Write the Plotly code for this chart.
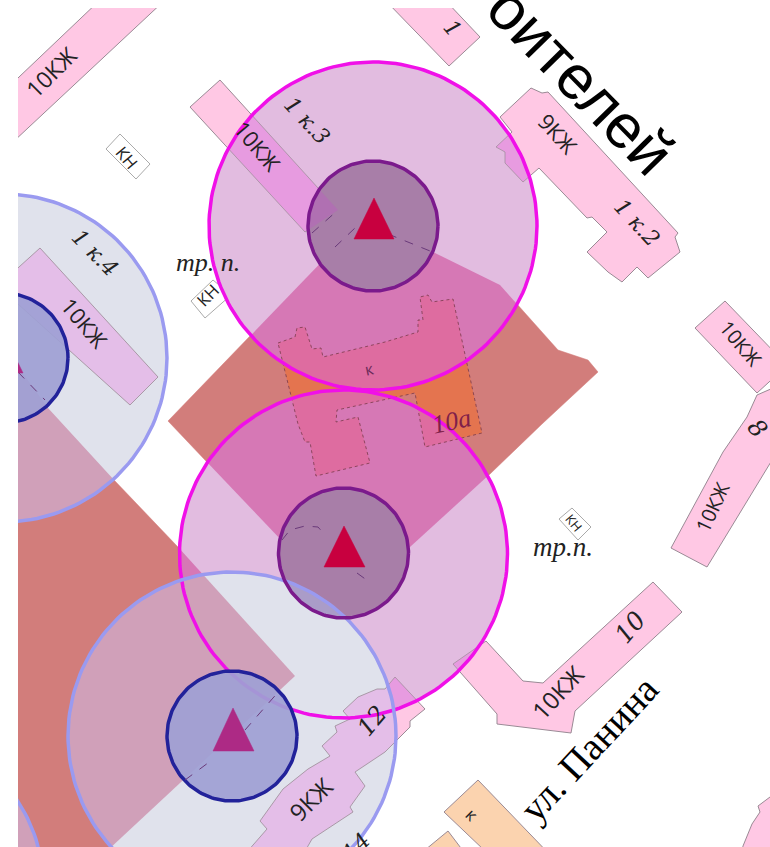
import numpy as np
import plotly.graph_objects as go

# Map geometry (pixel-like map units)
PLOT_UPPER = [(168,421),(317,267),(360,222),(435,253),(500,285),(558,350),(588,360),(598,372),(542,424),(490,474),(410,547),(344,606),(277,536)]
PLOT_LOWER = [(-5,335),(48,408),(115,481),(177,546),(295,676),(108,850),(-5,850)]
SCHOOL = [(278,343),(295,337),(297,328),(305,327),(312,349),(321,348),(323,357),(385,342),(418,332),(418,320),(423,320),(420,297),(428,295),(432,302),(453,299),(482,433),(425,447),(415,393),(337,410),(336,422),(358,417),(370,463),(316,476),(310,442),(305,442),(298,424)]
BLD_TOPLEFT = [(100,0),(165,0),(-2,156),(-2,97)]
BLD_K3 = [(220,80),(190,107),(305,232),(338,210)]
BLD_K4 = [(40,248),(-2,286),(130,405),(158,377)]
BLD_1 = [(385,0),(445,0),(480,37),(449,66)]
BLD_K2 = [(500,117),(531,88),(542,93),(548,92),(678,233),(675,237),(680,252),(648,278),(637,267),(622,282),(608,272),(587,252),(607,232),(592,217),(587,218),(539,168),(523,182),(505,163),(505,152),(496,147),(512,132)]
BLD_RIGHT = [(725,301),(695,328),(757,393),(780,372),(780,358)]
BLD_8 = [(757,395),(747,417),(723,452),(703,489),(680,531),(671,548),(707,567),(780,447),(780,385)]
BLD_10 = [(653,582),(682,612),(575,711),(571,733),(497,724),(497,714),(453,664),(486,641),(523,681),(543,683)]
BLD_12 = [(395,677),(425,709),(410,721),(410,727),(385,752),(355,772),(365,786),(350,807),(353,812),(312,839),(300,860),(240,860),(267,829),(260,821),(283,789),(300,776),(308,769),(330,756),(322,746),(337,732),(335,726),(350,719),(343,711),(358,697),(377,689),(385,689)]
BLD_CORNER = [(770,797),(758,806),(760,812),(752,824),(743,846),(740,860),(780,860),(780,790)]
PINK_BUILDINGS = [BLD_TOPLEFT, BLD_K3, BLD_K4, BLD_1, BLD_K2, BLD_RIGHT, BLD_8, BLD_10, BLD_12, BLD_CORNER]
ORANGE_1 = [(478,780),(444,812),(505,870),(555,860)]
ORANGE_2 = [(448,831),(425,850),(470,860)]
ORANGE_BUILDINGS = [ORANGE_1, ORANGE_2]
KN_1 = [(120,134),(106,149),(136,179),(150,164)]
KN_2 = [(213,280),(191,301),(205,318),(231,295)]
KN_3 = [(572,508),(559,519),(578,540),(591,527)]
KN_BOXES = [KN_1, KN_2, KN_3]

BIG_MAGENTA_X = [373, 343.5]
BIG_MAGENTA_Y = [226, 554]
BIG_BLUE_X = [3, 232, -120]
BIG_BLUE_Y = [358, 736, 890]
BIG_R = 164
SMALL_MAGENTA_X = [373, 343.5]
SMALL_MAGENTA_Y = [226, 553]
SMALL_BLUE_X = [3, 232]
SMALL_BLUE_Y = [358, 736]
SMALL_R = 65

TRI_RED_1 = [(374,198),(354,239),(394,239)]
TRI_RED_2 = [(344,526),(324,567),(365,567)]
TRI_BLUE_1 = [(233,708),(213,751),(254,751)]
TRI_BLUE_2 = [(3,332),(-17,373),(23,373)]

DASH_LINES = [
    [(312,233),(338,210)], [(335,247),(355,228)], [(388,234),(435,253)],
    [(282,540),(290,530),(305,526),(318,527),(325,535)], [(357,573),(368,581)],
    [(185,780),(212,760)], [(245,730),(280,690)], [(18,372),(45,400)],
]

SANS = "Open Sans"
SERIF = "DejaVu Serif"
TIMES = "Liberation Serif"
LABELS = [
    ("10КЖ",(51,72),-45,23,SANS,"normal","#222"),
    ("10КЖ",(258,146),50,22,SANS,"normal","#222"),
    ("1 к.3",(307,120),47,22,SERIF,"italic","#222"),
    ("1 к.4",(95,252),45,22,SERIF,"italic","#222"),
    ("10КЖ",(85,323),50,22,SANS,"normal","#222"),
    ("КН",(127,157),50,17,SANS,"normal","#222"),
    ("КН",(207,295),-45,17,SANS,"normal","#222"),
    ("тр. п.",(208,262),0,26,TIMES,"italic","#222"),
    ("к",(369,369),-12,16,SANS,"normal","#6a2a5a"),
    ("10а",(451,421),-12,26,TIMES,"italic","#80204a"),
    ("1",(453,28),50,22,SERIF,"italic","#222"),
    ("оителей",(581,80),45.5,62,"Liberation Sans","normal","#000"),
    ("9КЖ",(558,133),48,22,SANS,"normal","#222"),
    ("1 к.2",(637,222),47,22,SERIF,"italic","#222"),
    ("10КЖ",(741,343),50,20,SANS,"normal","#222"),
    ("8",(757,428),50,24,SERIF,"italic","#222"),
    ("10КЖ",(712,507),-65,20,SANS,"normal","#222"),
    ("КН",(574,523),50,13,SANS,"normal","#222"),
    ("тр.п.",(563,547),0,27,TIMES,"italic","#222"),
    ("10",(630,627),-50,25,SERIF,"italic","#222"),
    ("10КЖ",(557,692),-47,24,SANS,"normal","#222"),
    ("ул. Панина",(589,749),-47,39,TIMES,"normal","#000"),
    ("к",(472,814),45,17,SANS,"normal","#222"),
    ("12",(372,721),-50,24,SERIF,"italic","#222"),
    ("9КЖ",(310,799),-45,24,SANS,"normal","#222"),
    ("14",(356,846),-45,22,SERIF,"italic","#222"),
]

PINK = "#FFC8E4"
EDGE = "#9a8a95"
TERRACOTTA = "#D27D7B"
MAGENTA_FILL = "#E2BCE0"
MAGENTA_ON_PLOT = "#D678B5"
MAGENTA_ON_SCHOOL = "#DE6CA0"
MAGENTA_ON_PINK = "#E79BE0"
BLUE_FILL = "#E0E2EC"
BLUE_ON_PLOT = "#D0A0B9"
BLUE_ON_PINK = "#E4BEE8"
NONE = "rgba(0,0,0,0)"

fig = go.Figure()

def poly(pts, fill, line, width=1, dash=None, closed=True):
    if not pts:
        return
    xs = [p[0] for p in pts]
    ys = [p[1] for p in pts]
    if closed:
        xs.append(xs[0]); ys.append(ys[0])
    fig.add_trace(go.Scatter(
        x=xs, y=ys, mode="lines", fill="toself" if fill else "none",
        fillcolor=fill, line=dict(color=line, width=width, dash=dash),
        hoverinfo="skip", showlegend=False))

def ring(cx, cy, r):
    t = np.linspace(0, 2*np.pi, 181)[:-1]
    return list(zip(cx + r*np.cos(t), cy + r*np.sin(t)))

def clip_to_circle(pts, cx, cy, r):
    """Sutherland-Hodgman clip of a polygon to a circle's outline."""
    clip = ring(cx, cy, r)
    out = list(pts)
    for i in range(len(clip)):
        ax, ay = clip[i]
        bx_, by_ = clip[(i + 1) % len(clip)]
        side = lambda p: (bx_-ax)*(p[1]-ay) - (by_-ay)*(p[0]-ax)
        res = []
        for j in range(len(out)):
            p, q = out[j], out[(j + 1) % len(out)]
            sp, sq = side(p), side(q)
            if sp >= 0:
                res.append(p)
            if sp * sq < 0:
                k = sp / (sp - sq)
                res.append((p[0] + k*(q[0]-p[0]), p[1] + k*(q[1]-p[1])))
        out = res
        if not out:
            break
    return out

# base map
for b in PINK_BUILDINGS:
    poly(b, PINK, EDGE)
for b in ORANGE_BUILDINGS:
    poly(b, "#FBD3AF", EDGE)
for b in KN_BOXES:
    poly(b, "#FFFFFF", "#aaaaaa")
poly(PLOT_UPPER, TERRACOTTA, TERRACOTTA, 0.5)
poly(PLOT_LOWER, TERRACOTTA, TERRACOTTA, 0.5)
poly(SCHOOL, "#E4744F", NONE, 0)

# magenta zones: each area keeps the tint it has in the picture
for x, y in zip(BIG_MAGENTA_X, BIG_MAGENTA_Y):
    poly(ring(x, y, BIG_R), MAGENTA_FILL, NONE, 0)
    for b in (BLD_K3, BLD_K2, BLD_10, BLD_12):
        poly(clip_to_circle(b, x, y, BIG_R), MAGENTA_ON_PINK, EDGE, 0.7)
    poly(clip_to_circle(PLOT_UPPER, x, y, BIG_R), MAGENTA_ON_PLOT, NONE, 0)
    poly(clip_to_circle(PLOT_LOWER, x, y, BIG_R), MAGENTA_ON_PLOT, NONE, 0)
    poly(clip_to_circle(SCHOOL, x, y, BIG_R), MAGENTA_ON_SCHOOL, NONE, 0)
poly(SCHOOL, None, "#7a3a4a", 0.8, "dot")

# blue zones replace the magenta tint where they overlap
for x, y in zip(BIG_BLUE_X, BIG_BLUE_Y):
    poly(ring(x, y, BIG_R), BLUE_FILL, NONE, 0)
    poly(clip_to_circle(PLOT_LOWER, x, y, BIG_R), BLUE_ON_PLOT, NONE, 0)
    poly(clip_to_circle(BLD_K4, x, y, BIG_R), BLUE_ON_PINK, EDGE, 0.8)
    poly(clip_to_circle(BLD_12, x, y, BIG_R), BLUE_ON_PINK, EDGE, 0.8)

bx, by = BIG_BLUE_X[1], BIG_BLUE_Y[1]
for x, y in zip(SMALL_MAGENTA_X, SMALL_MAGENTA_Y):
    poly(ring(x, y, SMALL_R), "#A87EA8", NONE, 0)
poly(clip_to_circle(BLD_K3, SMALL_MAGENTA_X[0], SMALL_MAGENTA_Y[0], SMALL_R), "#B070B2", NONE, 0)
poly(clip_to_circle(ring(SMALL_MAGENTA_X[1], SMALL_MAGENTA_Y[1], SMALL_R), bx, by, BIG_R),
     "#AA9CC8", NONE, 0)

# outlines
for x, y in zip(BIG_MAGENTA_X, BIG_MAGENTA_Y):
    poly(ring(x, y, BIG_R), None, "#F010E8", 3.5)
for x, y in zip(BIG_BLUE_X, BIG_BLUE_Y):
    poly(ring(x, y, BIG_R), None, "#9A9AF0", 3.5)
for x, y in zip(SMALL_MAGENTA_X, SMALL_MAGENTA_Y):
    poly(ring(x, y, SMALL_R), None, "#7B1A8C", 3.5)
for x, y in zip(SMALL_BLUE_X, SMALL_BLUE_Y):
    poly(ring(x, y, SMALL_R), "rgba(158,160,212,0.92)", "#22229A", 3.5)
for seg in DASH_LINES:
    poly(seg, None, "#6a3a7a", 1, "dash", closed=False)
for tri in (TRI_RED_1, TRI_RED_2):
    poly(tri, "#C8003F", "#C8003F", 0.5)
for tri in (TRI_BLUE_1, TRI_BLUE_2):
    poly(tri, "#AD2A85", "#AD2A85", 0.5)

for text, (x, y), ang, size, fam, style, col in LABELS:
    fig.add_annotation(x=x, y=y, xref="x", yref="y", text=text, textangle=ang,
                       showarrow=False, xanchor="center", yanchor="middle",
                       font=dict(size=size, family=fam, style=style, color=col))

fig.update_layout(
    width=770, height=847, autosize=False,
    margin=dict(l=18, r=0, t=8, b=0),
    paper_bgcolor="white", plot_bgcolor="white", showlegend=False,
    xaxis=dict(range=[18, 770], visible=False, fixedrange=True),
    yaxis=dict(range=[847, 8], visible=False, fixedrange=True),
)
# the page's default body margin is removed so the figure fills the 770x847 window
fig.write_html("out.html", config={"displayModeBar": False},
               post_script="document.body.style.margin='0';document.documentElement.style.overflow='hidden';")
